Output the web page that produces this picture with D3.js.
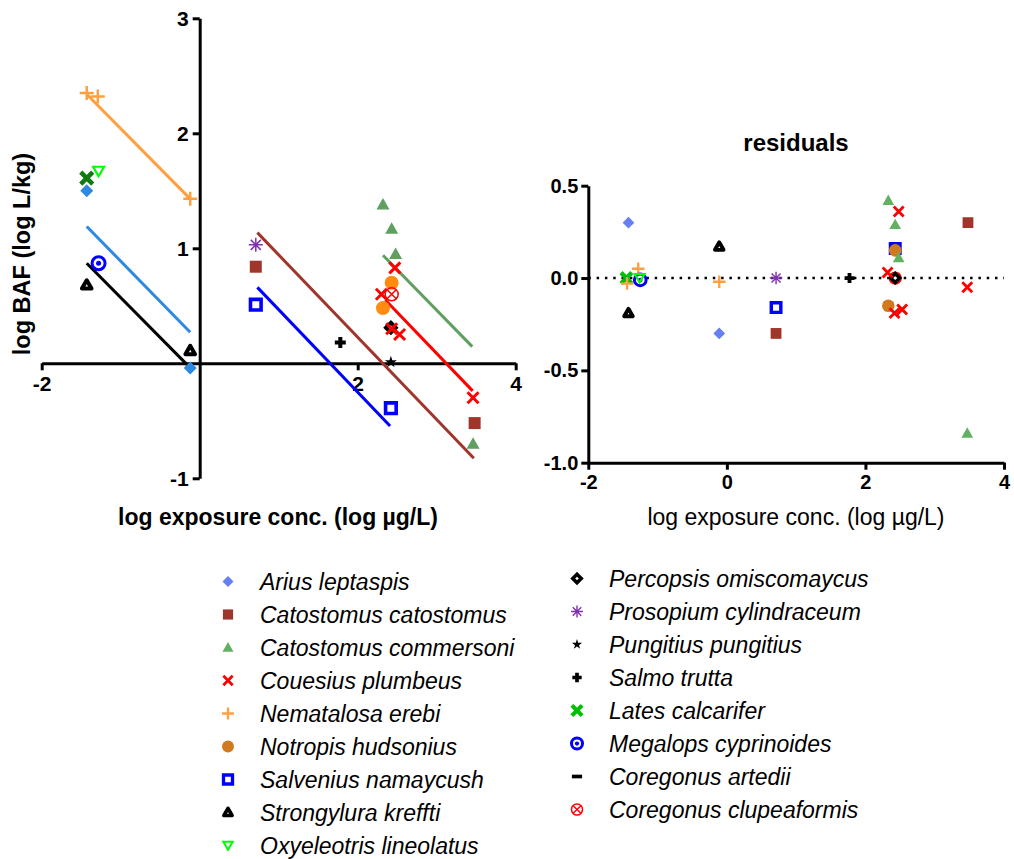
<!DOCTYPE html>
<html>
<head>
<meta charset="utf-8">
<script src="https://cdn.jsdelivr.net/npm/d3@7"></script>
<style>
	body { margin: 0; background: #fff; }
	text { font-family: 'Liberation Sans', Arial, sans-serif; }
</style>
</head>
<body>
<script>
// species, in legend order
const speciesNames = [
	'Arius leptaspis', 'Catostomus catostomus', 'Catostomus commersoni', 'Couesius plumbeus',
	'Nematalosa erebi', 'Notropis hudsonius', 'Salvenius namaycush', 'Strongylura kreffti',
	'Oxyeleotris lineolatus', 'Percopsis omiscomaycus', 'Prosopium cylindraceum', 'Pungitius pungitius',
	'Salmo trutta', 'Lates calcarifer', 'Megalops cyprinoides', 'Coregonus artedii', 'Coregonus clupeaformis'
]

// log BAF vs log exposure conc. [species, x, y]
const bafPoints = [
	['Nematalosa erebi', -1.43, 2.35], ['Nematalosa erebi', -1.29, 2.32], ['Nematalosa erebi', -0.12, 1.43],
	['Oxyeleotris lineolatus', -1.28, 1.67],
	['Arius leptaspis', -1.43, 1.50], ['Arius leptaspis', -0.12, -0.04],
	['Lates calcarifer', -1.43, 1.61],
	['Megalops cyprinoides', -1.28, 0.87],
	['Strongylura kreffti', -1.43, 0.68], ['Strongylura kreffti', -0.12, 0.11],
	['Prosopium cylindraceum', 0.71, 1.03],
	['Catostomus catostomus', 0.71, 0.84], ['Catostomus catostomus', 3.48, -0.52],
	['Salvenius namaycush', 0.71, 0.51], ['Salvenius namaycush', 2.42, -0.39],
	['Salmo trutta', 1.78, 0.18],
	['Pungitius pungitius', 2.42, 0.01],
	['Catostomus commersoni', 2.32, 1.38], ['Catostomus commersoni', 2.43, 1.17],
	['Catostomus commersoni', 2.48, 0.95], ['Catostomus commersoni', 3.46, -0.70],
	['Notropis hudsonius', 2.43, 0.70], ['Notropis hudsonius', 2.32, 0.48],
	['Coregonus clupeaformis', 2.43, 0.60],
	['Coregonus artedii', 2.42, 0.31],
	['Percopsis omiscomaycus', 2.42, 0.31],
	['Couesius plumbeus', 2.47, 0.83], ['Couesius plumbeus', 2.30, 0.60], ['Couesius plumbeus', 2.43, 0.30],
	['Couesius plumbeus', 2.53, 0.25], ['Couesius plumbeus', 3.46, -0.30]
]

// fitted lines [species, x1, y1, x2, y2]
const fitLines = [
	['Nematalosa erebi', -1.43, 2.34, -0.12, 1.43],
	['Arius leptaspis', -1.43, 1.19, -0.12, 0.27],
	['Strongylura kreffti', -1.43, 0.87, -0.12, -0.04],
	['Salvenius namaycush', 0.73, 0.66, 2.41, -0.545],
	['Catostomus catostomus', 0.73, 1.136, 3.47, -0.826],
	['Catostomus commersoni', 2.32, 0.94, 3.45, 0.145],
	['Couesius plumbeus', 2.35, 0.55, 3.455, -0.24]
]

// residuals [species, x, y]
const residualPoints = [
	['Arius leptaspis', -1.42, 0.30], ['Arius leptaspis', -0.11, -0.30],
	['Strongylura kreffti', -1.42, -0.19], ['Strongylura kreffti', -0.11, 0.17],
	['Lates calcarifer', -1.45, 0.0],
	['Nematalosa erebi', -1.44, -0.03], ['Nematalosa erebi', -1.28, 0.05], ['Nematalosa erebi', -0.11, -0.02],
	['Megalops cyprinoides', -1.25, -0.01],
	['Oxyeleotris lineolatus', -1.26, 0.0],
	['Prosopium cylindraceum', 0.71, 0.0],
	['Salvenius namaycush', 0.71, -0.16], ['Salvenius namaycush', 2.43, 0.16],
	['Catostomus catostomus', 0.71, -0.30], ['Catostomus catostomus', 3.48, 0.30],
	['Salmo trutta', 1.77, 0.0],
	['Notropis hudsonius', 2.43, 0.15], ['Notropis hudsonius', 2.33, -0.15],
	['Catostomus commersoni', 2.33, 0.42], ['Catostomus commersoni', 2.43, 0.29],
	['Catostomus commersoni', 2.48, 0.11], ['Catostomus commersoni', 3.47, -0.84],
	['Pungitius pungitius', 2.43, 0.0],
	['Coregonus artedii', 2.43, 0.0],
	['Coregonus clupeaformis', 2.43, 0.0],
	['Percopsis omiscomaycus', 2.43, 0.0],
	['Couesius plumbeus', 2.48, 0.36], ['Couesius plumbeus', 2.32, 0.03], ['Couesius plumbeus', 3.47, -0.05],
	['Couesius plumbeus', 2.53, -0.17], ['Couesius plumbeus', 2.42, -0.19]
]

const bafXTicks = [-2, 2, 4]
const bafYTicks = [-1, 1, 2, 3]
const resXTicks = [-2, 0, 2, 4]
const resYTicks = [-1, -0.5, 0, 0.5]

// marker styles (right panel + legend)
const styles = {
	'Arius leptaspis': { shape: 'diamond', color: '#6680f0' },
	'Catostomus catostomus': { shape: 'square', color: '#a0352b' },
	'Catostomus commersoni': { shape: 'triangle', color: '#62b062' },
	'Couesius plumbeus': { shape: 'x', color: '#ff0000' },
	'Nematalosa erebi': { shape: 'plus', color: '#ffa040' },
	'Notropis hudsonius': { shape: 'circle', color: '#d07a20' },
	'Salvenius namaycush': { shape: 'openSquare', color: '#0000ff' },
	'Strongylura kreffti': { shape: 'openTriangle', color: '#000000' },
	'Oxyeleotris lineolatus': { shape: 'openTriangleDown', color: '#00ff00' },
	'Percopsis omiscomaycus': { shape: 'openDiamond', color: '#000000' },
	'Prosopium cylindraceum': { shape: 'asterisk', color: '#8030b0' },
	'Pungitius pungitius': { shape: 'star', color: '#000000' },
	'Salmo trutta': { shape: 'boldPlus', color: '#000000' },
	'Lates calcarifer': { shape: 'boldX', color: '#00c000' },
	'Megalops cyprinoides': { shape: 'target', color: '#0000ff' },
	'Coregonus artedii': { shape: 'dash', color: '#000000' },
	'Coregonus clupeaformis': { shape: 'circleX', color: '#ff0000' }
}
// left panel uses a few different shades
const leftColors = {
	'Arius leptaspis': '#2e8ae0',
	'Notropis hudsonius': '#ff8c10',
	'Lates calcarifer': '#107a10',
	'Catostomus commersoni': '#5f9f5f'
}

const svg = d3.select('body').append('svg').attr('width', 1014).attr('height', 859)

// k scales the shape, strokes stay close to their full weight
function drawMarker(g, shape, color, k) {
	const p = (d) => g.append('path').attr('d', d).attr('transform', `scale(${k})`)
	const sw = (w) => w / Math.sqrt(k)
	if (shape === 'diamond') p('M0,-6.5L6.5,0L0,6.5L-6.5,0Z').attr('fill', color)
	else if (shape === 'square') p('M-6,-6H6V6H-6Z').attr('fill', color)
	else if (shape === 'triangle') p('M0,-6.5L6.5,5L-6.5,5Z').attr('fill', color)
	else if (shape === 'x') p('M-5.5,-5.5L5.5,5.5M5.5,-5.5L-5.5,5.5').attr('stroke', color).attr('stroke-width', sw(3))
	else if (shape === 'plus') p('M-7,0H7M0,-7V7').attr('stroke', color).attr('stroke-width', sw(2.5))
	else if (shape === 'circle') g.append('circle').attr('r', 7 * k).attr('fill', color)
	else if (shape === 'openSquare') p('M-5.3,-5.3H5.3V5.3H-5.3Z').attr('fill', '#fff').attr('stroke', color).attr('stroke-width', sw(3.6))
	else if (shape === 'openTriangle') p('M0,-4.8L4.8,3.5L-4.8,3.5Z').attr('fill', '#fff').attr('stroke', color).attr('stroke-width', sw(4)).attr('stroke-linejoin', 'round')
	else if (shape === 'openTriangleDown') p('M0,5L5.5,-4.5L-5.5,-4.5Z').attr('fill', 'none').attr('stroke', color).attr('stroke-width', sw(2.2))
	else if (shape === 'openDiamond') p('M0,-5L5,0L0,5L-5,0Z').attr('fill', '#fff').attr('stroke', color).attr('stroke-width', sw(3.8))
	else if (shape === 'asterisk') p('M-7,0H7M0,-7V7M-5,-5L5,5M5,-5L-5,5').attr('stroke', color).attr('stroke-width', sw(1.5))
	else if (shape === 'star') p(d3.symbol(d3.symbolStar, 45)()).attr('fill', color)
	else if (shape === 'boldPlus') p('M-5.5,0H5.5M0,-5.5V5.5').attr('stroke', color).attr('stroke-width', sw(4))
	else if (shape === 'boldX') p('M-6,-6L6,6M6,-6L-6,6').attr('stroke', color).attr('stroke-width', sw(4.5))
	else if (shape === 'target') {
		g.append('circle').attr('r', 6.5 * k).attr('fill', '#fff').attr('stroke', color).attr('stroke-width', 3)
		g.append('circle').attr('r', 2.5 * k).attr('fill', color)
	} else if (shape === 'dash') p('M-6,0H6').attr('stroke', color).attr('stroke-width', sw(4))
	else if (shape === 'circleX') {
		g.append('circle').attr('r', 6.5 * k).attr('fill', 'none').attr('stroke', color).attr('stroke-width', 1.5)
		p('M-4.5,-4.5L4.5,4.5M4.5,-4.5L-4.5,4.5').attr('stroke', color).attr('stroke-width', sw(1.5))
	}
}

function styleAxis(a, size, weight) {
	a.select('.domain').attr('stroke-width', 3)
	a.selectAll('.tick line').attr('stroke-width', 3)
	a.selectAll('.tick text')
		.attr('font-family', "'Liberation Sans', Arial, sans-serif")
		.attr('font-size', size).attr('font-weight', weight).attr('fill', '#000')
}

/////////////////////////
// left panel: log BAF
const x1 = d3.scaleLinear().domain([-2, 4]).range([41.7, 515.7])
const y1 = d3.scaleLinear().domain([-1, 3]).range([478.3, 18.3])

const gx1 = svg.append('g').attr('transform', `translate(0,${y1(0)})`)
	.call(d3.axisBottom(x1).tickValues(bafXTicks).tickSize(7).tickSizeOuter(0).tickPadding(6))
styleAxis(gx1, 21, 'bold')
gx1.selectAll('.tick text').text(d => String(d))

const gy1 = svg.append('g').attr('transform', `translate(${x1(0)},0)`)
	.call(d3.axisLeft(y1).tickValues(bafYTicks).tickSize(7).tickSizeOuter(0).tickPadding(4))
styleAxis(gy1, 21, 'bold')
gy1.selectAll('.tick text').text(d => String(d))

svg.append('g').selectAll('line').data(fitLines).join('line')
	.attr('x1', d => x1(d[1])).attr('y1', d => y1(d[2]))
	.attr('x2', d => x1(d[3])).attr('y2', d => y1(d[4]))
	.attr('stroke', d => leftColors[d[0]] || styles[d[0]].color)
	.attr('stroke-width', 3)

svg.append('g').selectAll('g').data(bafPoints).join('g')
	.attr('transform', d => `translate(${x1(d[1])},${y1(d[2])})`)
	.each(function (d) {
		drawMarker(d3.select(this), styles[d[0]].shape, leftColors[d[0]] || styles[d[0]].color, 1)
	})

svg.append('text').attr('x', 278).attr('y', 525).attr('text-anchor', 'middle')
	.attr('font-size', 23).attr('font-weight', 'bold').text('log exposure conc. (log µg/L)')
svg.append('text').attr('transform', 'translate(30,254) rotate(-90)').attr('text-anchor', 'middle')
	.attr('font-size', 23.5).attr('font-weight', 'bold').text('log BAF (log L/kg)')

/////////////////////////
// right panel: residuals
const x2 = d3.scaleLinear().domain([-2, 4]).range([588.3, 1004])
const y2 = d3.scaleLinear().domain([-1, 0.5]).range([462.7, 185.7])

svg.append('line')
	.attr('x1', x2(-2)).attr('x2', x2(4)).attr('y1', y2(0)).attr('y2', y2(0))
	.attr('stroke', '#000').attr('stroke-width', 2.5).attr('stroke-dasharray', '2.5,5.8')

const gx2 = svg.append('g').attr('transform', `translate(0,${y2(-1)})`)
	.call(d3.axisBottom(x2).tickValues(resXTicks).tickSize(7).tickSizeOuter(0).tickPadding(5))
styleAxis(gx2, 20, 'bold')
gx2.selectAll('.tick text').text(d => String(d))

const gy2 = svg.append('g').attr('transform', `translate(${x2(-2)},0)`)
	.call(d3.axisLeft(y2).tickValues(resYTicks).tickSize(7).tickSizeOuter(0).tickPadding(3))
styleAxis(gy2, 20, 'bold')
gy2.selectAll('.tick text').text(d => d.toFixed(1))

svg.append('g').selectAll('g').data(residualPoints).join('g')
	.attr('transform', d => `translate(${x2(d[1])},${y2(d[2])})`)
	.each(function (d) {
		drawMarker(d3.select(this), styles[d[0]].shape, styles[d[0]].color, 0.9)
	})

svg.append('text').attr('x', 796).attr('y', 151).attr('text-anchor', 'middle')
	.attr('font-size', 24).attr('font-weight', 'bold').text('residuals')
svg.append('text').attr('x', 796).attr('y', 525).attr('text-anchor', 'middle')
	.attr('font-size', 23).text('log exposure conc. (log µg/L)')

/////////////////////////
// legend, two columns
const legend = svg.append('g')
legend.selectAll('g').data(speciesNames).join('g')
	.attr('transform', (d, i) => i < 9
		? `translate(228,${581.5 + i * 33})`
		: `translate(577,${578.5 + (i - 9) * 33})`)
	.each(function (d) {
		const g = d3.select(this)
		drawMarker(g, styles[d].shape, styles[d].color, 0.85)
		g.append('text').attr('x', 32).attr('dy', '0.35em')
			.attr('font-size', 23).attr('font-style', 'italic').attr('fill', '#000').text(d)
	})
</script>
</body>
</html>
